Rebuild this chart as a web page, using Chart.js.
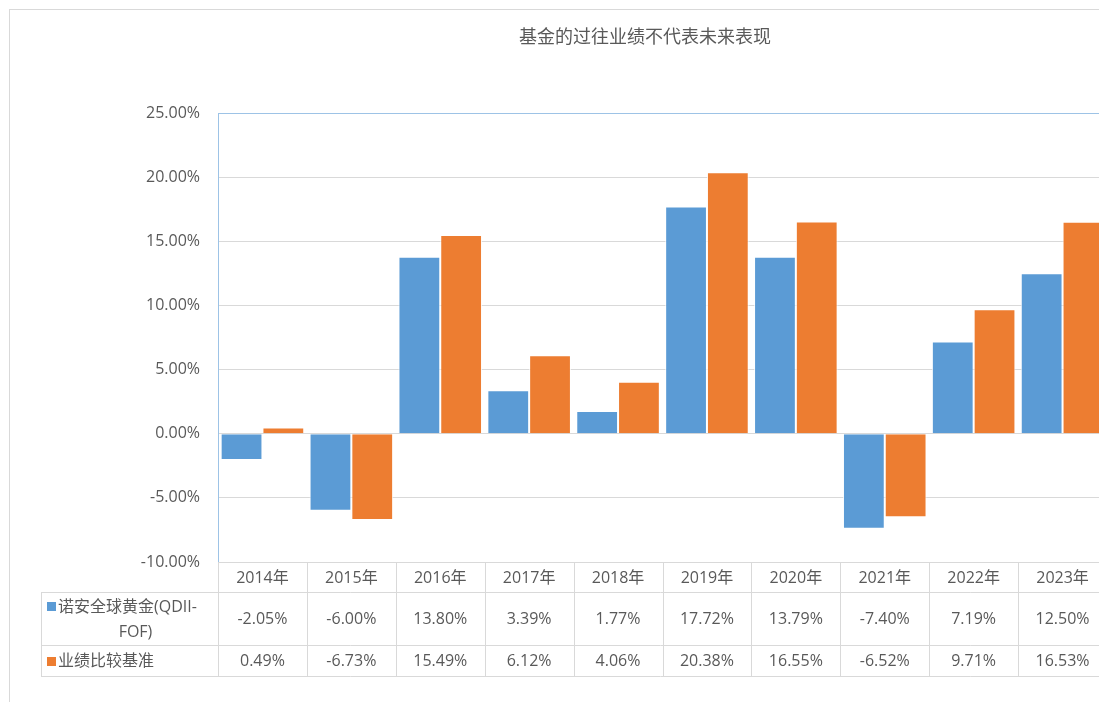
<!DOCTYPE html>
<html>
<head>
<meta charset="utf-8">
<script src="https://cdn.jsdelivr.net/npm/chart.js@4.4.0/dist/chart.umd.min.js"></script>
<style>
    html, body { margin: 0; padding: 0; background: #fff; overflow: hidden; }
    body { width: 1099px; height: 702px; position: relative; }
    #frame {
        position: absolute;
        left: 9px;
        top: 9px;
        border: 1px solid #d9d9d9;
    }
    #frame canvas { display: block; }
</style>
</head>
<body>
<div id="frame">
    <canvas id="perfChart" width="1270" height="700"></canvas>
</div>
<script>
// Données
const years = ['2014年', '2015年', '2016年', '2017年', '2018年', '2019年', '2020年', '2021年', '2022年', '2023年'];
const fundReturns = [-2.05, -6.00, 13.80, 3.39, 1.77, 17.72, 13.79, -7.40, 7.19, 12.50];
const benchReturns = [0.49, -6.73, 15.49, 6.12, 4.06, 20.38, 16.55, -6.52, 9.71, 16.53];
const seriesNames = ['诺安全球黄金(QDII-FOF)', '业绩比较基准'];
const seriesColors = ['#5B9BD5', '#ED7D31'];
const yTicks = { min: -10, max: 25, step: 5 };
const chartTitle = '基金的过往业绩不代表未来表现';

const FONT = '"Open Sans", "Noto Sans CJK SC", sans-serif';
const TEXT_COLOR = '#595959';
const LINE_COLOR = '#D9D9D9';

// Titre centré sur toute la largeur du cadre
const titlePlugin = {
    id: 'frameTitle',
    afterDraw(chart) {
        const { ctx } = chart;
        ctx.save();
        ctx.font = '18px ' + FONT;
        ctx.fillStyle = TEXT_COLOR;
        ctx.textAlign = 'center';
        ctx.textBaseline = 'middle';
        ctx.fillText(chartTitle, chart.width / 2, 28);
        ctx.restore();
    }
};

// Tableau de données sous le graphique (style Excel)
const dataTablePlugin = {
    id: 'dataTable',
    afterDraw(chart) {
        const { ctx, chartArea: a, scales: { x } } = chart;
        const n = years.length;
        const cw = (a.right - a.left) / n;
        const tableLeft = a.left - 177;
        const y1 = a.bottom;
        const y2 = y1 + 30;
        const y3 = y2 + 53;
        const y4 = y3 + 31;
        const rightEdge = chart.width;

        ctx.save();
        ctx.strokeStyle = LINE_COLOR;
        ctx.lineWidth = 1;
        ctx.beginPath();
        [y2, y3, y4].forEach(y => {
            ctx.moveTo(tableLeft, Math.round(y) + 0.5);
            ctx.lineTo(rightEdge, Math.round(y) + 0.5);
        });
        for (let i = 0; i <= n; i++) {
            const xb = Math.round(a.left + i * cw) + 0.5;
            ctx.moveTo(xb, y1);
            ctx.lineTo(xb, y4);
        }
        ctx.moveTo(tableLeft + 0.5, y2);
        ctx.lineTo(tableLeft + 0.5, y4);
        ctx.stroke();

        ctx.font = '16px ' + FONT;
        ctx.fillStyle = TEXT_COLOR;
        ctx.textAlign = 'center';
        ctx.textBaseline = 'middle';

        const rows = [fundReturns, benchReturns];
        const rowMids = [(y2 + y3) / 2, (y3 + y4) / 2];
        years.forEach((label, i) => {
            const cx = x.getPixelForValue(i);
            ctx.fillText(label, cx, (y1 + y2) / 2 + 1);
            rows.forEach((vals, r) => {
                ctx.fillText(vals[i].toFixed(2) + '%', cx, rowMids[r] + 1);
            });
        });

        // Libellés des séries avec leur carré de couleur
        const sqX = tableLeft + 6;
        const textX = sqX + 11;
        const avail = a.left - textX - 1;
        seriesNames.forEach((name, r) => {
            let lines = [name];
            if (ctx.measureText(name).width > avail && name.includes('-')) {
                const k = name.lastIndexOf('-') + 1;
                lines = [name.slice(0, k), name.slice(k)];
            }
            const firstY = lines.length > 1 ? rowMids[r] - 12.5 : rowMids[r];
            ctx.fillStyle = seriesColors[r];
            ctx.fillRect(sqX, Math.round(firstY) - 4, 9, 9);
            ctx.fillStyle = TEXT_COLOR;
            ctx.textAlign = 'left';
            ctx.fillText(lines[0], textX, firstY + 1);
            if (lines.length > 1) {
                ctx.textAlign = 'center';
                ctx.fillText(lines[1], (tableLeft + a.left) / 2 + 6, rowMids[r] + 13.5);
            }
        });
        ctx.restore();
    }
};

const ctx = document.getElementById('perfChart');
new Chart(ctx, {
    type: 'bar',
    data: {
        labels: years,
        datasets: [{
            label: seriesNames[0],
            data: fundReturns,
            backgroundColor: seriesColors[0],
            borderColor: 'rgba(255, 255, 255, 0.8)',
            borderWidth: 1,
            categoryPercentage: 0.94,
            barPercentage: 1
        }, {
            label: seriesNames[1],
            data: benchReturns,
            backgroundColor: seriesColors[1],
            borderColor: 'rgba(255, 255, 255, 0.8)',
            borderWidth: 1,
            categoryPercentage: 0.94,
            barPercentage: 1
        }]
    },
    options: {
        responsive: false,
        animation: false,
        layout: {
            padding: { left: 0, right: 173, top: 103, bottom: 0 }
        },
        plugins: {
            legend: { display: false },
            tooltip: { enabled: false },
            title: { display: false }
        },
        scales: {
            x: {
                ticks: { display: false },
                grid: { display: false, drawTicks: false },
                border: { display: false },
                afterFit: (s) => { s.height = 148; }
            },
            y: {
                min: yTicks.min,
                max: yTicks.max,
                afterFit: (s) => { s.width = 208; },
                ticks: {
                    stepSize: yTicks.step,
                    padding: 18,
                    color: TEXT_COLOR,
                    font: { family: FONT, size: 16 },
                    callback: (v) => v.toFixed(2) + '%'
                },
                grid: {
                    drawTicks: false,
                    lineWidth: 1,
                    color: (c) => (c.tick && c.tick.value === yTicks.max) ? '#9DC3E6' : LINE_COLOR
                },
                border: { display: true, color: '#9DC3E6', width: 1 }
            }
        }
    },
    plugins: [titlePlugin, dataTablePlugin]
});
</script>
</body>
</html>
